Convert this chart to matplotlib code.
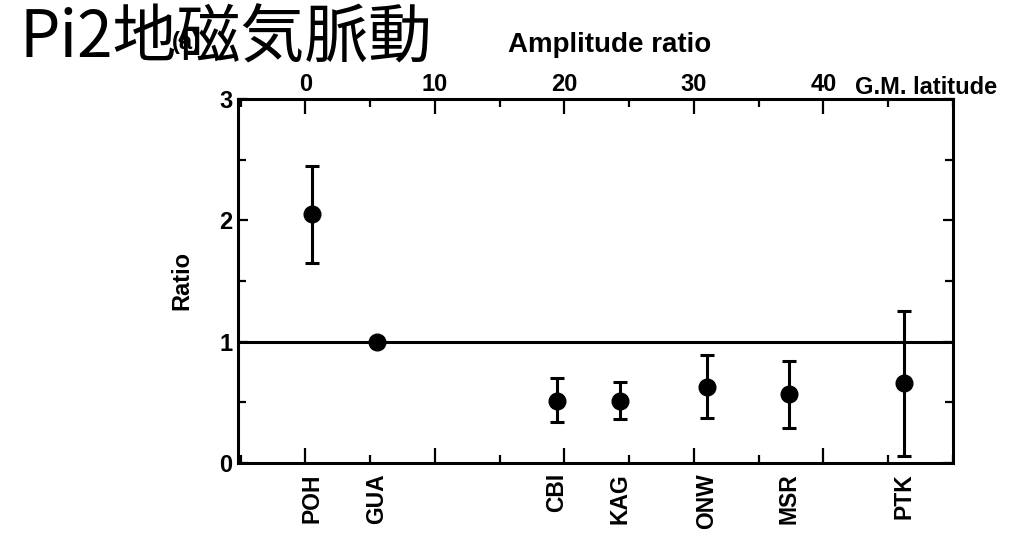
import matplotlib

matplotlib.use("Agg")
import matplotlib.pyplot as plt
from matplotlib.ticker import MultipleLocator
from matplotlib.transforms import blended_transform_factory

# Pi2 amplitude ratio (relative to GUA) against geomagnetic latitude.
stations = ["POH", "GUA", "CBI", "KAG", "ONW", "MSR", "PTK"]
gm_lat = [0.5, 5.5, 19.4, 24.3, 31.0, 37.3, 46.2]
ratio = [2.05, 1.00, 0.51, 0.51, 0.63, 0.57, 0.66]
err_hi = [2.45, 1.00, 0.70, 0.67, 0.89, 0.84, 1.25]
err_lo = [1.65, 1.00, 0.34, 0.36, 0.37, 0.29, 0.06]

lat_ticks = [0, 10, 20, 30, 40]
ratio_ticks = [0, 1, 2, 3]

SANS = ["Liberation Sans", "DejaVu Sans"]
JP = ["Noto Sans CJK JP", "DejaVu Sans"]
plt.rcParams["font.family"] = SANS
plt.rcParams["font.weight"] = "bold"

fig = plt.figure(figsize=(10.09, 5.35), dpi=100)
ax = fig.add_axes([0.236, 0.1346, 0.7085, 0.6804])

yerr = [[r - lo for r, lo in zip(ratio, err_lo)],
        [hi - r for r, hi in zip(ratio, err_hi)]]
ax.errorbar(gm_lat, ratio, yerr=yerr, fmt="o", color="black", markersize=12,
            elinewidth=2.2, capsize=5, capthick=2.2, zorder=4)
ax.axhline(1.0, color="black", linewidth=2.2, zorder=3)

ax.set_xlim(-5.2, 50)
ax.set_ylim(0, 3)

for s in ax.spines.values():
    s.set_linewidth(2.2)

ax.xaxis.set_major_locator(MultipleLocator(10))
ax.xaxis.set_minor_locator(MultipleLocator(5))
ax.yaxis.set_major_locator(MultipleLocator(1))
ax.yaxis.set_minor_locator(MultipleLocator(0.5))
ax.set_xticks(lat_ticks)
ax.set_yticks(ratio_ticks)
ax.tick_params(which="both", direction="in", top=True, right=True,
               width=1.6, labelsize=17)
ax.tick_params(which="major", length=11)
ax.tick_params(which="minor", length=6)
ax.tick_params(axis="x", labelbottom=False, labeltop=True, pad=2)
ax.tick_params(axis="y", pad=4)
ax.tick_params(axis="y", which="major", right=True, length=7)

ax.set_ylabel("Ratio", fontsize=17, fontweight="bold")
ax.yaxis.set_label_coords(-0.062, 0.5)

# station names hang below the axis at each station's latitude
trans = blended_transform_factory(ax.transData, ax.transAxes)
for name, x in zip(stations, gm_lat):
    ax.text(x, -0.028, name, transform=trans, rotation=90, ha="center",
            va="top", fontsize=16.5, fontweight="bold")

fig.text(610 / 1009, 1 - 45 / 535, "Amplitude ratio", ha="center",
         va="center", fontsize=20, fontweight="bold")
fig.text(855 / 1009, 1 - 87 / 535, "G.M. latitude", ha="left",
         va="center", fontsize=17, fontweight="bold")
fig.text(186 / 1009, 1 - 42 / 535, "(a)", ha="center", va="center",
         fontsize=17, fontweight="bold")
fig.text(20 / 1009, 1 - 39 / 535, "Pi2地磁気脈動", ha="left", va="center",
         fontsize=46, fontweight="normal", family=JP)

fig.savefig("out.png", dpi=100, facecolor="white")
